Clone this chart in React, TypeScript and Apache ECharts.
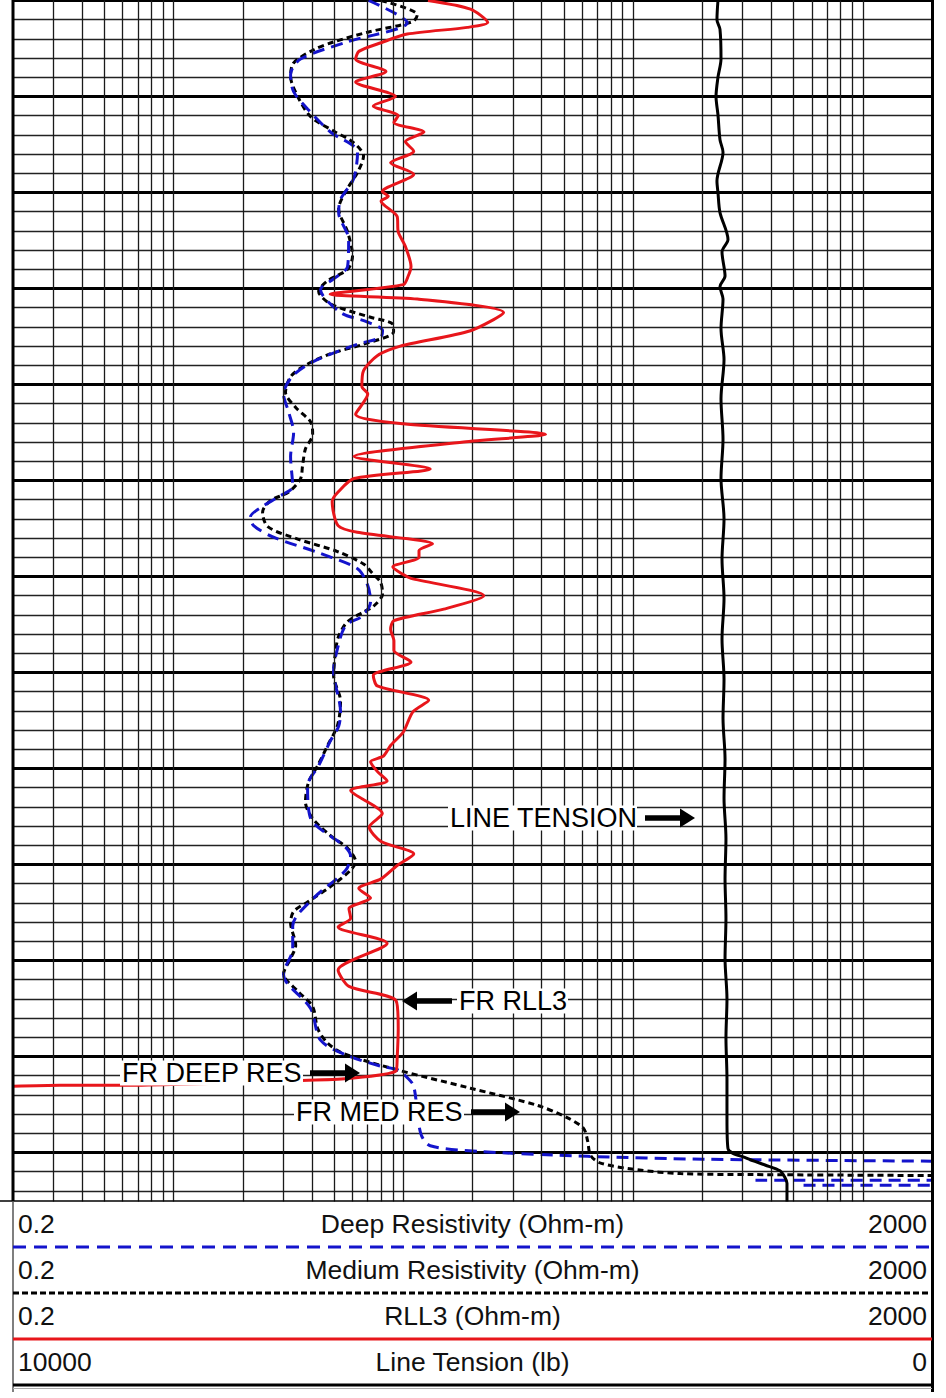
import React, { useEffect, useRef } from "react";
import * as echarts from "echarts";

const W = 946;
const H = 1398;

// vertical log grid lines (Ohm-m)
const gridValues = [0.3, 0.4, 0.5, 0.6, 0.7, 0.8, 0.9, 1, 2, 3, 4, 5, 6, 7, 8, 9, 10, 20, 30, 40, 50, 60, 70, 80, 90, 100, 200, 300, 400, 500, 600, 700, 800, 900, 1000];

// [depth ft, value]
const rll3 = [[5000, 12.8], [5000.9, 19.6], [5002.3, 23.3], [5002.8, 19.0], [5003.5, 10.4], [5004.4, 8.0], [5005.3, 6.4], [5006.1, 6.2], [5007.4, 8.4], [5008.5, 6.2], [5010.0, 9.25], [5011.0, 7.4], [5012.0, 9.5], [5012.7, 9.1], [5013.7, 12.3], [5014.7, 10.2], [5015.7, 11.1], [5016.9, 8.8], [5018.1, 11.1], [5019.9, 8.1], [5020.4, 8.6], [5020.9, 8.0], [5022.5, 9.4], [5024.1, 9.5], [5025.6, 10.2], [5027.7, 10.8], [5028.7, 10.5], [5029.6, 10.0], [5030.6, 4.8], [5031.1, 11.5], [5032.5, 27.3], [5034.4, 19.6], [5036.0, 9.7], [5037.0, 7.7], [5038.6, 6.7], [5040.2, 6.6], [5041.0, 7.0], [5043.1, 6.2], [5044.1, 10.0], [5045.2, 41.6], [5046.0, 18.3], [5047.5, 6.1], [5048.8, 13.1], [5049.8, 6.1], [5051.2, 5.2], [5052.2, 4.9], [5054.7, 5.2], [5055.4, 6.3], [5056.6, 13.4], [5057.3, 11.7], [5058.0, 11.7], [5059.0, 9.0], [5059.8, 10.0], [5060.2, 10.8], [5062.0, 22.4], [5063.4, 15.0], [5064.6, 9.1], [5065.5, 8.8], [5066.7, 9.1], [5067.7, 9.1], [5068.9, 10.8], [5070.3, 7.4], [5071.4, 7.7], [5072.9, 12.9], [5074.1, 11.0], [5076.2, 10.0], [5077.6, 8.8], [5078.7, 8.2], [5079.3, 7.2], [5080.3, 7.7], [5081.3, 8.5], [5082.3, 5.9], [5084.7, 8.1], [5086.1, 7.1], [5087.6, 8.0], [5088.9, 11.1], [5090.1, 9.4], [5091.5, 8.0], [5092.5, 6.4], [5093.5, 7.2], [5094.6, 5.8], [5095.6, 5.9], [5096.5, 5.2], [5098.2, 8.5], [5101.0, 5.2], [5102.7, 5.8], [5104.2, 9.3], [5107.1, 9.5], [5110.2, 9.4], [5111.5, 9.3], [5112.3, 5.7], [5112.5, 3.6], [5113.0, 0.59], [5113.0, 0.32], [5113.1, 0.2]];

const medRes = [[5000, 8.0], [5001.5, 11.5], [5002.2, 11.0], [5003.3, 7.0], [5004.3, 5.0], [5005.1, 4.1], [5006.5, 3.33], [5007.9, 3.23], [5010.0, 3.47], [5012.1, 3.95], [5013.6, 4.97], [5014.8, 6.07], [5016.2, 6.71], [5017.9, 6.32], [5019.9, 5.61], [5021.7, 5.23], [5024.1, 5.72], [5026.6, 6.01], [5028.0, 5.72], [5029.2, 4.68], [5030.3, 4.28], [5031.6, 4.82], [5033.0, 7.2], [5033.7, 8.98], [5034.5, 9.07], [5035.8, 6.71], [5036.8, 4.82], [5038.1, 3.68], [5039.2, 3.23], [5040.8, 3.07], [5042.4, 3.40], [5043.9, 3.95], [5045.2, 4.03], [5046.7, 3.75], [5048.5, 3.64], [5049.8, 3.57], [5051.2, 3.17], [5052.1, 2.64], [5053.3, 2.44], [5054.8, 2.57], [5056.1, 3.47], [5057.4, 5.17], [5058.7, 6.71], [5059.7, 7.35], [5060.6, 7.96], [5061.8, 8.12], [5063.1, 7.42], [5063.7, 6.71], [5064.7, 5.72], [5066.2, 5.23], [5067.8, 5.07], [5070.3, 4.97], [5073.0, 5.33], [5075.5, 5.17], [5077.6, 4.68], [5079.7, 4.24], [5081.4, 3.87], [5083.5, 3.75], [5085.2, 4.03], [5087.0, 4.82], [5088.3, 5.72], [5089.7, 6.2], [5090.6, 5.89], [5092.3, 4.82], [5093.9, 3.83], [5094.9, 3.33], [5096.1, 3.23], [5098.4, 3.40], [5099.8, 3.23], [5101.4, 3.01], [5103.2, 3.47], [5104.8, 4.03], [5107.1, 4.24], [5108.6, 4.68], [5109.7, 5.50], [5111.4, 9.44], [5113.3, 19.6], [5115.1, 38.4], [5116.4, 51.9], [5117.5, 60.9], [5118.8, 63.4], [5120.3, 65.3], [5121.1, 72.2], [5121.8, 104.6], [5122.2, 161], [5122.3, 334.5], [5122.4, 2000]];

const deepRes = [[5000, 7.06], [5002.3, 10.4], [5004.3, 5.72], [5006.1, 3.57], [5007.7, 3.23], [5009.5, 3.33], [5011.3, 3.83], [5013.7, 4.82], [5015.8, 6.32], [5018.6, 6.07], [5020.7, 5.33], [5022.1, 5.23], [5024.9, 5.78], [5027.7, 5.72], [5029.0, 4.97], [5030.1, 4.36], [5032.5, 5.33], [5033.5, 6.99], [5034.4, 8.12], [5035.1, 7.96], [5035.8, 6.32], [5037.6, 4.07], [5039.1, 3.30], [5041.0, 3.01], [5042.9, 3.17], [5045.0, 3.33], [5047.5, 3.23], [5050.6, 3.30], [5051.7, 2.86], [5052.7, 2.44], [5053.8, 2.16], [5054.7, 2.23], [5055.9, 2.72], [5057.6, 4.36], [5059.2, 6.32], [5060.9, 6.99], [5062.6, 7.2], [5064.1, 6.65], [5065.1, 5.61], [5067.5, 5.17], [5069.9, 4.97], [5074.1, 5.33], [5075.6, 5.23], [5077.1, 4.82], [5079.7, 4.28], [5081.8, 3.83], [5085.2, 3.95], [5089.1, 5.89], [5090.6, 5.61], [5093.5, 4.07], [5096.4, 3.30], [5098.8, 3.30], [5101.4, 3.01], [5102.4, 3.13], [5105.0, 3.95], [5108.3, 4.36], [5109.9, 5.72], [5111.0, 7.96], [5111.4, 9.44], [5112.2, 10.4], [5113.1, 11.1], [5118.0, 11.9], [5119.3, 13.1], [5119.9, 21.7], [5120.4, 63.4], [5120.7, 202.7], [5120.9, 2000], null, [5122.9, 341], [5122.9, 2000], null, [5123.4, 552], [5123.4, 2000]];

const lineTension = [[5000, 2329], [5002.0, 2340], [5003.0, 2307], [5006.1, 2296], [5008.0, 2329], [5010.0, 2350], [5011.9, 2329], [5014.5, 2307], [5015.8, 2274], [5018.8, 2340], [5020.0, 2329], [5022.1, 2307], [5024.9, 2220], [5026.2, 2285], [5028.7, 2252], [5029.8, 2307], [5031.1, 2274], [5034.2, 2296], [5037.4, 2263], [5041.5, 2296], [5045.7, 2274], [5049.8, 2296], [5054.0, 2263], [5058.2, 2285], [5062.3, 2263], [5066.5, 2285], [5070.7, 2263], [5074.8, 2274], [5079.0, 2252], [5083.1, 2263], [5087.3, 2242], [5091.5, 2252], [5095.6, 2242], [5099.8, 2252], [5104.0, 2231], [5108.1, 2242], [5112.3, 2231], [5116.4, 2231], [5119.6, 2220], [5120.6, 2013], [5121.3, 1817], [5121.9, 1654], [5122.6, 1600], [5123.2, 1578], [5130, 1578]];

const headerLeft = ["0.2", "0.2", "0.2", "10000"];
const headerTitle = ["Deep Resistivity (Ohm-m)", "Medium Resistivity (Ohm-m)", "RLL3 (Ohm-m)", "Line Tension (lb)"];
const headerRight = ["2000", "2000", "2000", "0"];

const FONT = '"Liberation Sans", Arial, Helvetica, sans-serif';
const RED = "#e8161b";
const BLUE = "#1414cc";

function toXY(arr: any[]) {
  return arr.map((p) => (p === null ? ["-", "-"] : [p[1], p[0]]));
}

function arrow(tail: number, tip: number, y: number) {
  const dir = tip > tail ? 1 : -1;
  const base = tip - dir * 15;
  return [
    { type: "line", z: 120, shape: { x1: tail, y1: y, x2: base + dir * 1, y2: y }, style: { stroke: "#000", lineWidth: 5.5 } },
    { type: "polygon", z: 120, shape: { points: [[base, y - 9.5], [tip, y], [base, y + 9.5]] }, style: { fill: "#000" } },
  ];
}

function label(text: string, x: number, y: number, w: number) {
  return [
    { type: "rect", z: 118, shape: { x: x - 2, y: y - 12.5, width: w, height: 25 }, style: { fill: "#fff" } },
    {
      type: "text", z: 119, x, y,
      style: { text, font: `27px ${FONT}`, fill: "#000", textAlign: "left", textVerticalAlign: "middle", align: "left", verticalAlign: "middle" },
    },
  ];
}

export default function App() {
  const ref = useRef<HTMLDivElement>(null);
  useEffect(() => {
    const chart = echarts.init(ref.current!, null, { renderer: "svg" });

    const rowY = [1224, 1270, 1316, 1362];
    const header: any[] = [];
    const hf = `26.5px ${FONT}`;
    rowY.forEach((y, i) => {
      header.push({ type: "text", z: 110, x: 18, y, style: { text: headerLeft[i], font: hf, fill: "#111", textAlign: "left", textVerticalAlign: "middle", align: "left", verticalAlign: "middle" } });
      header.push({ type: "text", z: 110, x: 472.5, y, style: { text: headerTitle[i], font: hf, fill: "#111", textAlign: "center", textVerticalAlign: "middle", align: "center", verticalAlign: "middle" } });
      header.push({ type: "text", z: 110, x: 927, y, style: { text: headerRight[i], font: hf, fill: "#111", textAlign: "right", textVerticalAlign: "middle", align: "right", verticalAlign: "middle" } });
    });

    const graphic: any[] = [
      { type: "rect", z: 100, shape: { x: 0, y: 1201.6, width: W, height: H - 1201 }, style: { fill: "#fff" } },
      { type: "line", z: 110, shape: { x1: 0, y1: 1201, x2: 933, y2: 1201 }, style: { stroke: "#000", lineWidth: 1.5 } },
      { type: "line", z: 110, shape: { x1: 13, y1: 0, x2: 13, y2: 1201 }, style: { stroke: "#000", lineWidth: 3 } },
      { type: "line", z: 110, shape: { x1: 13, y1: 1201, x2: 13, y2: 1392 }, style: { stroke: "#555", lineWidth: 1.5 } },
      { type: "line", z: 110, shape: { x1: 932.5, y1: 0, x2: 932.5, y2: 1392 }, style: { stroke: "#000", lineWidth: 3 } },
      { type: "line", z: 110, shape: { x1: 13, y1: 1247, x2: 932, y2: 1247 }, style: { stroke: BLUE, lineWidth: 3, lineDash: [13, 8] } },
      { type: "line", z: 110, shape: { x1: 13, y1: 1293, x2: 932, y2: 1293 }, style: { stroke: "#000", lineWidth: 3, lineDash: [6, 3] } },
      { type: "line", z: 110, shape: { x1: 13, y1: 1339, x2: 932, y2: 1339 }, style: { stroke: RED, lineWidth: 3 } },
      { type: "line", z: 110, shape: { x1: 13, y1: 1385, x2: 932, y2: 1385 }, style: { stroke: "#000", lineWidth: 3 } },
      { type: "line", z: 110, shape: { x1: 13, y1: 1388.5, x2: 932, y2: 1388.5 }, style: { stroke: "#aaa", lineWidth: 1.2 } },
      ...header,
      ...label("LINE TENSION", 450, 818, 189),
      ...arrow(645, 695, 818),
      ...label("FR RLL3", 459, 1001, 111),
      ...arrow(452, 402, 1001),
      ...label("FR DEEP RES", 122, 1073, 183),
      ...arrow(310, 360, 1073),
      ...label("FR MED RES", 296, 1112, 170),
      ...arrow(471, 520, 1112),
    ];

    const option: any = {
      animation: false,
      backgroundColor: "#fff",
      textStyle: { fontFamily: FONT },
      grid: { left: 13, top: 0.5, width: 919, height: 1248, containLabel: false },
      xAxis: [
        { type: "log", logBase: 10, min: 0.2, max: 2000, show: false },
        { type: "value", min: 0, max: 10000, inverse: true, show: false },
      ],
      yAxis: {
        type: "value", inverse: true, min: 5000, max: 5130, interval: 10,
        axisLine: { show: false }, axisTick: { show: false }, axisLabel: { show: false },
        splitLine: { show: true, lineStyle: { color: "#000", width: 3 } },
        minorTick: { show: false, splitNumber: 5 },
        minorSplitLine: { show: true, lineStyle: { color: "#222", width: 1.3 } },
      },
      series: [
        {
          name: "grid", type: "line", xAxisIndex: 0, data: [[1, 5000]], symbol: "none", silent: true, z: 1,
          lineStyle: { opacity: 0 },
          markLine: {
            silent: true, symbol: ["none", "none"], label: { show: false }, animation: false,
            lineStyle: { color: "#1a1a1a", width: 1.3, type: "solid" },
            emphasis: { disabled: true },
            data: gridValues.map((v) => ({ xAxis: v })),
          },
        },
        {
          name: "Medium Resistivity", type: "line", xAxisIndex: 0, data: toXY(medRes), symbol: "none", smooth: 0.3, z: 3,
          lineStyle: { color: "#000", width: 3, type: [6, 4] },
        },
        {
          name: "Deep Resistivity", type: "line", xAxisIndex: 0, data: toXY(deepRes), symbol: "none", smooth: 0.3, z: 4,
          connectNulls: false,
          lineStyle: { color: BLUE, width: 3, type: [12, 7] },
        },
        {
          name: "RLL3", type: "line", xAxisIndex: 0, data: toXY(rll3), symbol: "none", smooth: 0.25, z: 5,
          lineStyle: { color: RED, width: 3 },
        },
        {
          name: "Line Tension", type: "line", xAxisIndex: 1, data: toXY(lineTension), symbol: "none", smooth: 0.3, z: 5,
          lineStyle: { color: "#000", width: 3 },
        },
      ],
      graphic: { elements: graphic },
    };

    chart.setOption(option);
    return () => chart.dispose();
  }, []);
  return <div ref={ref} style={{ position: "absolute", left: 0, top: 0, width: W, height: H }} />;
}
